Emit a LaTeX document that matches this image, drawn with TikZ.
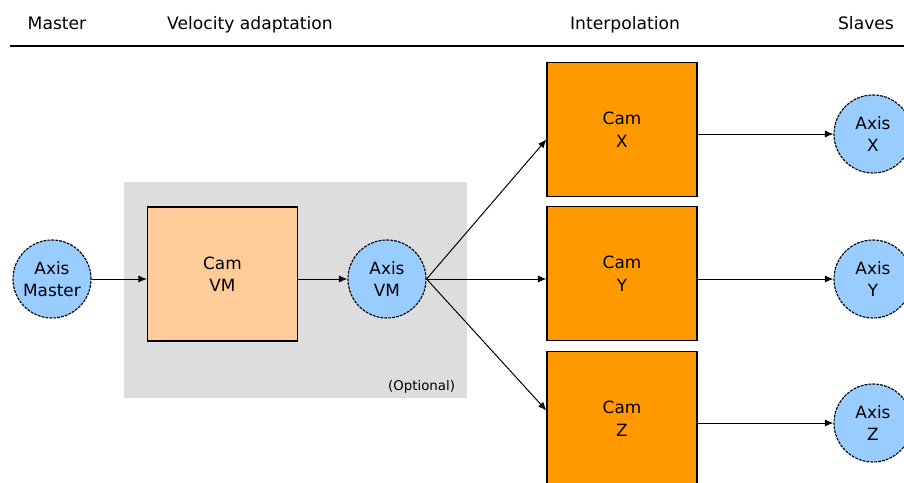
\documentclass[tikz,border=0pt]{standalone}
\usepackage{fontspec}
\setmainfont{DejaVu Sans}
\usetikzlibrary{arrows.meta, positioning}
\definecolor{camorange}{RGB}{255,153,0}
\definecolor{campeach}{RGB}{255,204,153}
\definecolor{axisblue}{RGB}{153,204,255}
\definecolor{optgray}{RGB}{221,221,221}

\begin{document}
\begin{tikzpicture}[
    x=0.025cm, y=-0.025cm,
    cam_box/.style={draw=black, line width=0.8pt, minimum width=3.75cm, minimum height=3.35cm, fill=camorange, align=center, inner sep=0pt, font=\fontsize{12}{16}\selectfont},
    axis_node/.style={circle, draw=black, line width=0.8pt, dash pattern=on 2pt off 0.8pt, fill=axisblue, minimum size=1.95cm, inner sep=0pt, align=center, font=\fontsize{12}{16}\selectfont},
    head_label/.style={anchor=base, font=\fontsize{12.2}{14}\selectfont},
    arrow/.style={-{Latex[length=6pt,width=5pt]}, line width=0.7pt}
]
    \clip (0,0) rectangle (904,482);

    % Column headings and rule
    \node[head_label] (h_master) at (57,29) {Master};
    \node[head_label] (h_velocity) at (250,29) {Velocity adaptation};
    \node[head_label] (h_interp) at (625,29) {Interpolation};
    \node[head_label] (h_slaves) at (866,29) {Slaves};
    \draw[line width=1.4pt] (10,46) -- (904,46);

    % Optional velocity adaptation area
    \node[fill=optgray, inner sep=0pt, minimum width=8.575cm, minimum height=5.4cm] (opt_area) at (295.5,290) {};
    \node[anchor=south east, inner sep=0pt, font=\fontsize{9.5}{11}\selectfont] (opt_label) at ([xshift=-0.3cm, yshift=0.12cm]opt_area.south east) {(Optional)};

    % Master axis and velocity adaptation
    \node[axis_node] (axis_master) at (52,279) {Axis\\Master};
    \node[cam_box, fill=campeach] (cam_vm) at (222.5,274) {Cam\\VM};
    \node[axis_node] (axis_vm) at (387,279) {Axis\\VM};

    % Interpolation cams
    \node[cam_box] (cam_x) at (622,129.5) {Cam\\X};
    \node[cam_box] (cam_y) at (622,273.5) {Cam\\Y};
    \node[cam_box] (cam_z) at (622,418.5) {Cam\\Z};

    % Slave axes
    \node[axis_node] (axis_x) at (873,134) {Axis\\X};
    \node[axis_node] (axis_y) at (873,279) {Axis\\Y};
    \node[axis_node] (axis_z) at (873,423) {Axis\\Z};

    % Connections
    \draw[arrow] (axis_master.east) -- (axis_master -| cam_vm.west);
    \draw[arrow] (axis_vm -| cam_vm.east) -- (axis_vm.west);
    \draw[arrow] (axis_vm.east) -- ([yshift=-0.25cm]cam_x.west);
    \draw[arrow] (axis_vm.east) -- (axis_vm -| cam_y.west);
    \draw[arrow] (axis_vm.east) -- ([yshift=0.2cm]cam_z.west);
    \draw[arrow] (axis_x -| cam_x.east) -- (axis_x.west);
    \draw[arrow] (axis_y -| cam_y.east) -- (axis_y.west);
    \draw[arrow] (axis_z -| cam_z.east) -- (axis_z.west);

\end{tikzpicture}
\end{document}
